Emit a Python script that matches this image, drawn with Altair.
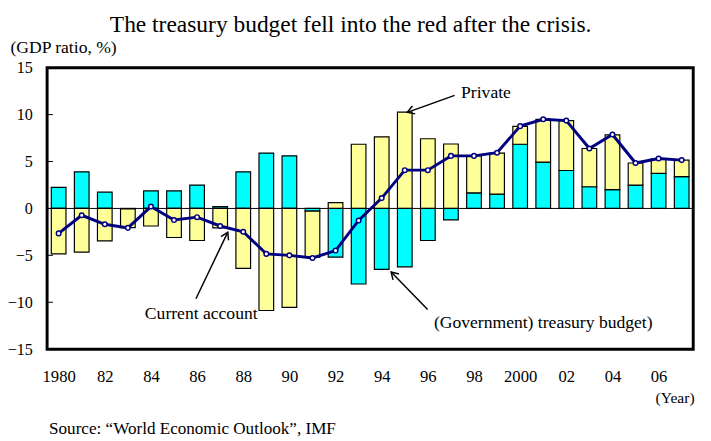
import altair as alt
import pandas as pd

years = list(range(1980, 2008))
treasury = [2.25, 3.9, 1.73, -0.05, 1.87, 1.87, 2.49, 0.2, 3.9, 5.9,
            5.6, -0.28, -5.18, -8.05, -6.49, -6.22, -3.42, -1.21, 1.66, 1.52,
            6.84, 4.94, 4.04, 2.31, 2.0, 2.49, 3.73, 3.39]
private = [-4.84, -4.66, -3.45, -2.0, -1.87, -3.1, -3.42, -2.07, -6.39, -10.88,
           -10.54, -4.9, 0.62, 6.84, 7.63, 10.26, 7.43, 6.87, 3.94, 4.38,
           1.9, 4.56, 5.32, 4.08, 5.84, 2.35, 1.55, 1.76]
current = [-2.66, -0.73, -1.69, -2.07, 0.2, -1.24, -0.93, -1.87, -2.49, -4.84,
           -5.0, -5.28, -4.49, -1.28, 1.1, 4.08, 4.08, 5.6, 5.6, 5.94,
           8.77, 9.5, 9.36, 6.39, 7.88, 4.84, 5.32, 5.15]

series_names = ["(Government) treasury budget", "Private"]
series_colors = ["#00FFFF", "#FFFF99"]
y_ticks = [-15, -10, -5, 0, 5, 10, 15]
x_ticks = list(range(1980, 2007, 2))

# annotations (data coordinates)
ann_text = ["Private", "Current account", "(Government) treasury budget)"]
ann_x = [1997.44, 1986.18, 2001.0]
ann_y = [12.3, -11.3, -12.2]
ann_align = ["left", "center", "center"]
arrow_x = [1997.16, 1985.95, 1995.99]
arrow_y = [12.05, -9.62, -10.76]
arrow_x2 = [1995.11, 1987.33, 1994.41]
arrow_y2 = [10.24, -2.53, -6.77]
arrow_angle = [250, 26, 316]

FONT = "Liberation Serif"
W, H = 661, 288

bars = pd.DataFrame({
    "year": years * 2,
    "value": treasury + private,
    "series": [series_names[0]] * len(years) + [series_names[1]] * len(years),
    "ord": [0] * len(years) + [1] * len(years),
})
line_df = pd.DataFrame({"year": years, "ca": current})
ann_df = pd.DataFrame({"x": ann_x, "y": ann_y, "text": ann_text, "align": ann_align})
arr_df = pd.DataFrame({"x": arrow_x, "y": arrow_y, "x2": arrow_x2, "y2": arrow_y2,
                       "angle": arrow_angle})
tick_df = pd.DataFrame({"t": y_ticks})

xscale = alt.Scale(domain=[1979.5, 2007.5], nice=False, zero=False, padding=0)
yscale = alt.Scale(domain=[-15, 15], nice=False, padding=0)

x_axis = alt.Axis(values=x_ticks, grid=False, domain=False, ticks=False,
                  labelExpr="datum.value == 1980 || datum.value == 2000 ? '' + datum.value : substring('' + datum.value, 2, 4)",
                  labelFont=FONT, labelFontSize=17, labelColor="black", labelPadding=20,
                  labelFlush=False,
                  title="(Year)", titleFont=FONT, titleFontSize=16, titleFontWeight="normal",
                  titleColor="black", titleAnchor="end", titleAlign="right",
                  titleBaseline="middle", titleX=662, titleY=50)
y_axis = alt.Axis(values=y_ticks, grid=False, domain=False, ticks=False,
                  labelFont=FONT, labelFontSize=16.5, labelColor="black", labelPadding=15,
                  title="(GDP ratio, %)", titleFont=FONT, titleFontSize=18,
                  titleFontWeight="normal", titleColor="black", titleAngle=0,
                  titleAlign="left", titleBaseline="middle", titleX=-38, titleY=-21)

bar_layer = alt.Chart(bars).mark_bar(size=15, stroke="black", strokeWidth=1.2).encode(
    x=alt.X("year:Q", scale=xscale, axis=x_axis),
    y=alt.Y("value:Q", scale=yscale, axis=y_axis, stack="zero"),
    color=alt.Color("series:N", scale=alt.Scale(domain=series_names, range=series_colors),
                    legend=None),
    order=alt.Order("ord:Q"),
)

zero_rule = alt.Chart(pd.DataFrame({"z": [0]})).mark_rule(color="black", strokeWidth=1).encode(
    y=alt.Y("z:Q", scale=yscale)
)

line = alt.Chart(line_df).mark_line(color="#000080", strokeWidth=3).encode(
    x=alt.X("year:Q", scale=xscale),
    y=alt.Y("ca:Q", scale=yscale),
)
pts = alt.Chart(line_df).mark_point(shape="circle", filled=True, fill="white",
                                    stroke="#000080", strokeWidth=1.5, size=22,
                                    opacity=1).encode(
    x=alt.X("year:Q", scale=xscale),
    y=alt.Y("ca:Q", scale=yscale),
)

arrows = alt.Chart(arr_df).mark_rule(color="black", strokeWidth=1.5).encode(
    x=alt.X("x:Q", scale=xscale), y=alt.Y("y:Q", scale=yscale),
    x2="x2:Q", y2="y2:Q",
)
heads = alt.Chart(arr_df).mark_point(shape="M -0.6 1 L 0 0 L 0.6 1", filled=False,
                                     stroke="black", strokeWidth=1.5, size=200,
                                     opacity=1).encode(
    x=alt.X("x2:Q", scale=xscale), y=alt.Y("y2:Q", scale=yscale),
    angle=alt.Angle("angle:Q", scale=None),
)
labels_left = alt.Chart(ann_df).transform_filter("datum.align == 'left'").mark_text(
    font=FONT, fontSize=18, color="black", baseline="middle", align="left").encode(
    x=alt.X("x:Q", scale=xscale), y=alt.Y("y:Q", scale=yscale), text="text:N",
)
labels_center = alt.Chart(ann_df).transform_filter("datum.align == 'center'").mark_text(
    font=FONT, fontSize=18, color="black", baseline="middle", align="center").encode(
    x=alt.X("x:Q", scale=xscale), y=alt.Y("y:Q", scale=yscale), text="text:N",
)

yt = alt.Chart(tick_df).mark_rule(color="black", strokeWidth=1).encode(
    y=alt.Y("t:Q", scale=yscale), x=alt.value(0), x2=alt.value(6)
)

frame = alt.Chart(pd.DataFrame({"f": [0]})).mark_rect(
    fill="transparent", stroke="black", strokeWidth=3
).encode(x=alt.value(0), x2=alt.value(W), y=alt.value(0), y2=alt.value(H))

source = alt.Chart(pd.DataFrame({"s": ["Source: \u201cWorld Economic Outlook\u201d, IMF"]})).mark_text(
    font=FONT, fontSize=17.5, color="black", align="left", baseline="middle"
).encode(text="s:N", x=alt.value(2), y=alt.value(370))

chart = alt.layer(bar_layer, zero_rule, line, pts, arrows, heads, labels_left,
                  labels_center, yt, frame, source).properties(
    width=W, height=H,
    padding={"left": 40, "top": 56, "right": 10, "bottom": 95},
    autosize=alt.AutoSizeParams(type="none"),
    title=alt.Title("The treasury budget fell into the red after the crisis.",
                    font=FONT, fontSize=24, fontWeight="normal", color="black",
                    anchor="middle", dx=-20, offset=1),
).configure_view(strokeWidth=0)

chart.save("out.html", embed_options={"renderer": "svg", "actions": False})
